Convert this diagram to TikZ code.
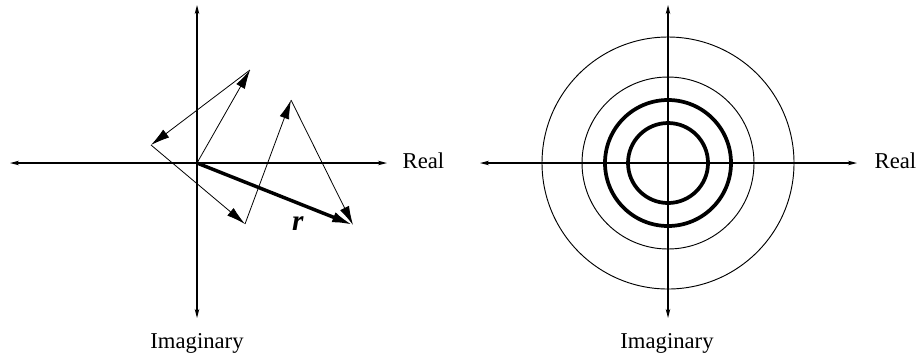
\documentclass[tikz,border=0pt]{standalone}
\usepackage{fontspec}
\setmainfont{Liberation Serif}
\usetikzlibrary{arrows.meta}

\begin{document}
\begin{tikzpicture}[
  x=0.75pt, y=-0.75pt,
  font=\fontsize{17}{20}\selectfont,
  axis/.style={line width=0.9pt, {Stealth[length=2.4mm,width=1.2mm]}-{Stealth[length=2.4mm,width=1.2mm]}},
  vec/.style={line width=0.6pt, -{Latex[length=5mm,width=2.6mm]}},
  res/.style={line width=2.6pt, -{Latex[length=5.5mm,width=2.8mm]}},
  ring/.style={line width=0.7pt},
  bring/.style={line width=2.8pt}
]
\useasboundingbox (0,0) rectangle (919,362);

% left plane: sum of vectors
\coordinate (o1) at (197,163);
\coordinate (a) at (250,70);
\coordinate (b) at (151,145);
\coordinate (c) at (245,224);
\coordinate (d) at (291,100);
\coordinate (e) at (353,225);
\coordinate (xl1) at (10,163);
\coordinate (xr1) at (387,163);
\coordinate (yt1) at (197,5);
\coordinate (yb1) at (197,318);
\draw[axis] (xl1) -- (xr1);
\draw[axis] (yt1) -- (yb1);
\node[anchor=west] (re1) at (398,161) {Real};
\node (im1) at (197,343) {Imaginary};
\draw[vec] (o1) -- (a);
\draw[vec] (a) -- (b);
\draw[vec] (b) -- (c);
\draw[vec] (c) -- (d);
\draw[vec] (d) -- (e);
\draw[res] (o1) -- (e);
\node[font=\fontsize{22}{24}\selectfont] (r) at (298,224) {\textbf{\textit{r}}};

% right plane: circles
\coordinate (o2) at (668,163);
\coordinate (xl2) at (480,163);
\coordinate (xr2) at (857,163);
\coordinate (yt2) at (668,5);
\coordinate (yb2) at (668,318);
\draw[axis] (xl2) -- (xr2);
\draw[axis] (yt2) -- (yb2);
\node[anchor=west] (re2) at (870,161) {Real};
\node (im2) at (667,343) {Imaginary};
\draw[ring] (o2) circle[radius=126];
\draw[ring] (o2) circle[radius=86];
\draw[bring] (o2) circle[radius=63];
\draw[bring] (o2) circle[radius=40];
\end{tikzpicture}
\end{document}
